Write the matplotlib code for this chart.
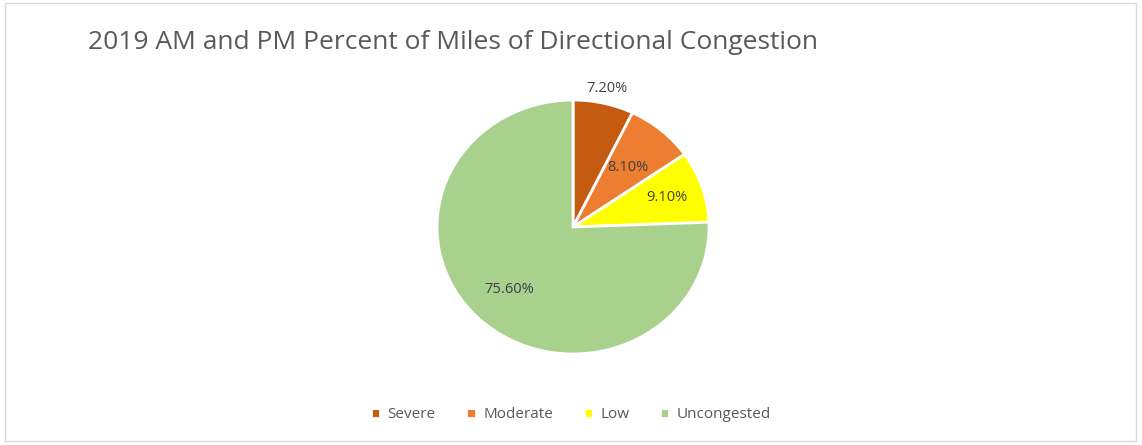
import numpy as np
import matplotlib.pyplot as plt
from matplotlib.patches import Rectangle

categories = ["Severe", "Moderate", "Low", "Uncongested"]
shares = [7.2, 8.1, 9.1, 75.6]
colors = ["#C55A11", "#ED7D31", "#FFFF00", "#A9D18E"]
label_dist = [1.12, 0.62, 0.73, 0.68]

plt.rcParams['font.family'] = ['Open Sans', 'DejaVu Sans']

fig = plt.figure(figsize=(11.42, 4.45), dpi=100)

# light frame around the chart area
fig.add_artist(Rectangle((0.004, 0.01), 0.991, 0.984, transform=fig.transFigure,
                         fill=False, edgecolor="#D9D9D9", linewidth=1))

ax = fig.add_axes([0.3827, 0.2045, 0.2382, 0.5708])
wedges, _ = ax.pie(shares, colors=colors, startangle=90, counterclock=False,
                   wedgeprops=dict(edgecolor="white", linewidth=2))
ax.set_aspect("auto")
ax.set_xlim(-1, 1)
ax.set_ylim(-1, 1)

# data labels at each wedge's middle angle
for w, val, d in zip(wedges, shares, label_dist):
    ang = np.deg2rad((w.theta1 + w.theta2) / 2)
    ax.text(d * np.cos(ang), d * np.sin(ang), f"{val:.2f}%",
            ha="center", va="center", fontsize=10.5, color="#404040")

fig.text(0.077, 0.905, "2019 AM and PM Percent of Miles of Directional Congestion",
         fontsize=19, color="#595959", ha="left", va="center")

fig.legend(wedges, categories, loc="center", bbox_to_anchor=(0.5, 0.068),
           ncol=4, frameon=False, fontsize=11, handlelength=0.6, handleheight=0.6,
           columnspacing=2.0, handletextpad=0.5, labelcolor="#595959")

plt.savefig("out.png", dpi=100)
